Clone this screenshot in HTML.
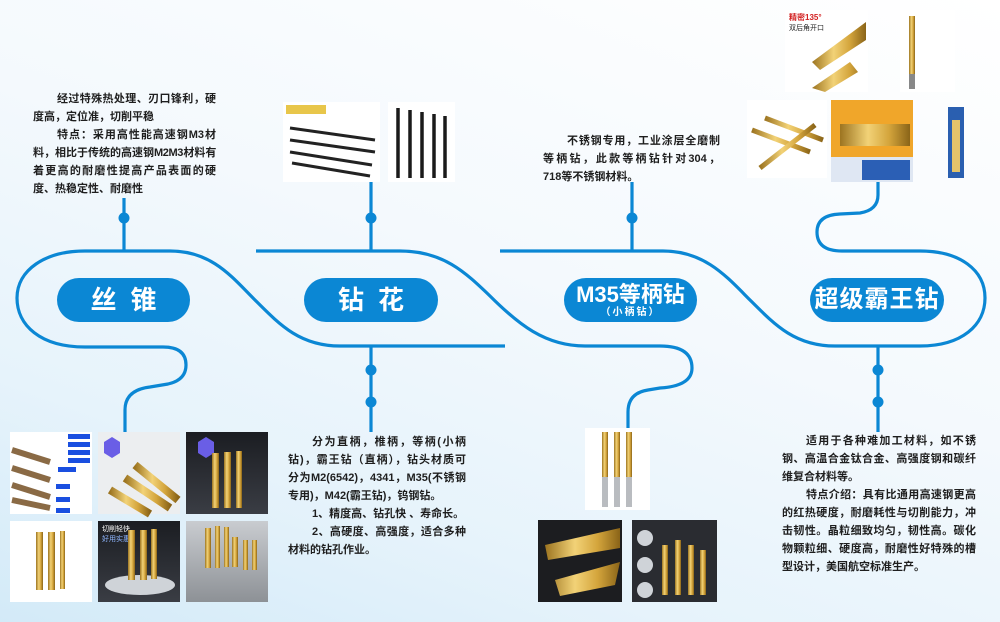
<!DOCTYPE html>
<html><head><meta charset="utf-8">
<style>
html,body{margin:0;padding:0}
body{width:1000px;height:622px;position:relative;overflow:hidden;
background:linear-gradient(200deg,#ffffff 0%,#f4f9fd 45%,#e6f3fb 75%,#d3eaf8 100%);
font-family:"Liberation Sans","Noto Sans CJK SC",sans-serif;}
svg{position:absolute;left:0;top:0}
.t{position:absolute;font-size:11px;line-height:18px;color:#1e1e1e;font-weight:bold;letter-spacing:0}
.t div{white-space:nowrap}
.t .j{text-align:justify;text-align-last:justify}
.t .i{padding-left:24px}
.pill{position:absolute;background:#0b87d4;border-radius:22px;color:#fff;font-weight:bold;text-align:center;height:44px;white-space:nowrap}
</style></head><body>
<svg width="1000" height="622" viewBox="0 0 1000 622">
<defs>
<linearGradient id="g" x1="0" x2="1"><stop offset="0" stop-color="#9c7420"/><stop offset=".4" stop-color="#f2d277"/><stop offset=".7" stop-color="#d4a53c"/><stop offset="1" stop-color="#8a6418"/></linearGradient>
<linearGradient id="dk" x1="0" y1="0" x2="0" y2="1"><stop offset="0" stop-color="#1b1d22"/><stop offset="1" stop-color="#3a3d44"/></linearGradient>
<linearGradient id="gr" x1="0" y1="0" x2="0" y2="1"><stop offset="0" stop-color="#c9ccd0"/><stop offset="1" stop-color="#8d9196"/></linearGradient>
</defs>
<g fill="none" stroke="#0b87d4" stroke-width="3.2">
<path d="M125,432 L125,410 Q125,390 150,387 L168,384 Q186,380 186,365 Q186,347 163,347 L85,347 C40,347 17,325 17,298 C17,270 45,251 85,251 L170,251 C212,251 232,277 255,300 C280,325 300,346 340,346 L505,346"/>
<path d="M256,251 L400,251 C443,251 465,272 490,296 C518,324 545,346 585,346 L660,346 Q692,346 692,368 Q692,386 660,388 L648,390 Q628,393 628,412 L628,430"/>
<path d="M500,251 L663,251 C705,251 727,277 750,300 C775,325 795,346 835,346 L920,346 C962,346 985,325 985,298 C985,270 960,251 920,251 L842,251 Q817,251 817,232 Q817,215 840,214 L860,213 Q878,210 878,195 L878,180"/>
<path d="M124,198 V251 M371,182 V251 M632,182 V251 M371,346 V432 M878,346 V432"/>
</g>
<g fill="#0b87d4">
<circle cx="124" cy="218" r="5.5"/><circle cx="371" cy="218" r="5.5"/><circle cx="632" cy="218" r="5.5"/>
<circle cx="371" cy="370" r="5.5"/><circle cx="371" cy="402" r="5.5"/>
<circle cx="878" cy="370" r="5.5"/><circle cx="878" cy="402" r="5.5"/>
</g>
<rect x="283" y="102" width="97" height="80" fill="#fff"/>
<rect x="286" y="105" width="40" height="9" fill="#e8c64a"/>
<g stroke="#222" stroke-width="3"><line x1="290" y1="128" x2="375" y2="140"/><line x1="290" y1="140" x2="375" y2="152"/><line x1="290" y1="152" x2="372" y2="165"/><line x1="292" y1="163" x2="370" y2="176"/></g>
<rect x="388" y="102" width="67" height="80" fill="#fff"/>
<g stroke="#1a1a1a" stroke-width="3.5"><line x1="398" y1="108" x2="398" y2="178"/><line x1="410" y1="110" x2="410" y2="178"/><line x1="422" y1="112" x2="422" y2="178"/><line x1="434" y1="114" x2="434" y2="178"/><line x1="445" y1="116" x2="445" y2="178"/></g>
<rect x="785" y="10" width="83" height="82" fill="#fff"/>
<text x="789" y="20" font-size="8" fill="#d21f1f" font-weight="bold" font-family="Liberation Sans,Noto Sans CJK SC,sans-serif">精密135°</text>
<text x="789" y="30" font-size="7" fill="#222" font-family="Liberation Sans,Noto Sans CJK SC,sans-serif">双后角开口</text>
<path d="M812,62 L866,22 L866,40 L820,70Z M812,88 L850,62 L858,72 L825,92Z" fill="url(#g)"/>
<rect x="900" y="10" width="55" height="82" fill="#fff"/>
<rect x="909" y="16" width="6" height="58" fill="url(#g)"/><rect x="909" y="74" width="6" height="15" fill="#888"/>
<rect x="747" y="100" width="80" height="78" fill="#fff"/>
<g stroke="url(#g)" stroke-width="5"><line x1="765" y1="118" x2="823" y2="140"/><line x1="752" y1="130" x2="810" y2="152"/><line x1="760" y1="168" x2="815" y2="125"/></g>
<rect x="831" y="100" width="82" height="82" fill="#f0a62a"/>
<rect x="840" y="124" width="70" height="22" fill="url(#g)"/>
<rect x="831" y="157" width="82" height="25" fill="#dfe7f3"/><rect x="862" y="160" width="48" height="20" fill="#2b5fb5"/>
<rect x="948" y="107" width="16" height="71" fill="#2a5fb0"/><rect x="952" y="120" width="8" height="52" fill="#e3c36a"/>
<rect x="10" y="432" width="82" height="82" fill="#fff"/>
<g stroke="#8a6a45" stroke-width="6"><line x1="12" y1="450" x2="50" y2="462"/><line x1="12" y1="468" x2="50" y2="480"/><line x1="12" y1="485" x2="50" y2="497"/><line x1="12" y1="500" x2="50" y2="508"/></g>
<g fill="#1a4fe0"><rect x="68" y="434" width="22" height="5"/><rect x="68" y="442" width="22" height="5"/><rect x="68" y="450" width="22" height="5"/><rect x="68" y="458" width="22" height="5"/><rect x="58" y="467" width="18" height="5"/><rect x="56" y="484" width="14" height="5"/><rect x="56" y="497" width="14" height="5"/><rect x="56" y="508" width="14" height="5"/></g>
<rect x="98" y="432" width="82" height="82" fill="#eceef0"/>
<polygon points="104,442 112,437 120,442 120,453 112,458 104,453" fill="#6a5ee6"/>
<g stroke="url(#g)" stroke-width="8"><line x1="110" y1="490" x2="150" y2="514"/><line x1="125" y1="478" x2="170" y2="508"/><line x1="135" y1="465" x2="178" y2="500"/></g>
<rect x="186" y="432" width="82" height="82" fill="url(#dk)"/>
<polygon points="198,442 206,437 214,442 214,453 206,458 198,453" fill="#6a5ee6"/>
<rect x="212" y="453" width="7" height="55" fill="url(#g)"/><rect x="224" y="452" width="7" height="56" fill="url(#g)"/><rect x="236" y="451" width="6" height="57" fill="url(#g)"/>
<rect x="10" y="521" width="82" height="81" fill="#fff"/>
<rect x="36" y="532" width="7" height="58" fill="url(#g)"/><rect x="48" y="532" width="7" height="58" fill="url(#g)"/><rect x="60" y="531" width="5" height="58" fill="url(#g)"/>
<rect x="98" y="521" width="82" height="81" fill="url(#dk)"/>
<text x="102" y="531" font-size="7" fill="#fff" font-family="Liberation Sans,Noto Sans CJK SC,sans-serif">切削轻快</text>
<text x="102" y="541" font-size="7" fill="#8fb6ff" font-family="Liberation Sans,Noto Sans CJK SC,sans-serif">好用实惠</text>
<ellipse cx="140" cy="585" rx="35" ry="10" fill="#cfd3d8"/>
<rect x="128" y="530" width="7" height="50" fill="url(#g)"/><rect x="140" y="530" width="7" height="50" fill="url(#g)"/><rect x="151" y="529" width="6" height="50" fill="url(#g)"/>
<rect x="186" y="521" width="82" height="81" fill="url(#gr)"/>
<g fill="url(#g)"><rect x="205" y="528" width="6" height="40"/><rect x="215" y="526" width="5" height="42"/><rect x="224" y="527" width="5" height="40"/><rect x="232" y="537" width="6" height="30"/><rect x="243" y="540" width="5" height="30"/><rect x="252" y="540" width="5" height="30"/></g>
<rect x="585" y="428" width="65" height="82" fill="#fff"/>
<rect x="602" y="432" width="6" height="45" fill="url(#g)"/><rect x="614" y="432" width="6" height="45" fill="url(#g)"/><rect x="626" y="432" width="6" height="45" fill="url(#g)"/>
<g fill="#b9bcc0"><rect x="602" y="477" width="6" height="30"/><rect x="614" y="477" width="6" height="30"/><rect x="626" y="477" width="6" height="30"/></g>
<rect x="538" y="520" width="84" height="82" fill="#1c1d20"/>
<path d="M545,545 L620,528 L620,548 L548,560Z M555,580 L620,562 L615,585 L560,596Z" fill="url(#g)"/>
<rect x="632" y="520" width="85" height="82" fill="#2a2c31"/>
<circle cx="645" cy="538" r="8" fill="#cfd3d8"/><circle cx="645" cy="565" r="8" fill="#cfd3d8"/><circle cx="645" cy="590" r="8" fill="#cfd3d8"/>
<rect x="662" y="545" width="6" height="50" fill="url(#g)"/><rect x="675" y="540" width="6" height="55" fill="url(#g)"/><rect x="688" y="545" width="6" height="50" fill="url(#g)"/><rect x="700" y="550" width="6" height="45" fill="url(#g)"/>
</svg>

<div class="pill" style="left:57px;top:278px;width:133px;font-size:26px;line-height:44px;letter-spacing:14px;text-indent:14px">丝锥</div>
<div class="pill" style="left:304px;top:278px;width:134px;font-size:26px;line-height:44px;letter-spacing:14px;text-indent:14px">钻花</div>
<div class="pill" style="left:564px;top:278px;width:133px;"><div style="font-size:22px;line-height:24px;margin-top:5px">M35等柄钻</div><div style="font-size:10px;line-height:12px;letter-spacing:2px">（小柄钻）</div></div>
<div class="pill" style="left:810px;top:278px;width:134px;font-size:24px;line-height:44px;letter-spacing:1px">超级霸王钻</div>

<div class="t" style="left:33px;top:90px;width:183px">
<div class="j i">经过特殊热处理、刃口锋利，硬</div>
<div>度高，定位准，切削平稳</div>
<div class="j i">特点：采用高性能高速钢M3材</div>
<div class="j" style="letter-spacing:-0.4px">料，相比于传统的高速钢M2M3材料有</div>
<div class="j">着更高的耐磨性提高产品表面的硬</div>
<div>度、热稳定性、耐磨性</div>
</div>
<div class="t" style="left:543px;top:132px;width:177px">
<div class="j i">不锈钢专用，工业涂层全磨制</div>
<div class="j">等柄钻，此款等柄钻针对304，</div>
<div>718等不锈钢材料。</div>
</div>
<div class="t" style="left:288px;top:433px;width:178px">
<div class="j i">分为直柄，椎柄，等柄(小柄</div>
<div class="j">钻)，霸王钻（直柄），钻头材质可</div>
<div class="j">分为M2(6542)，4341，M35(不锈钢</div>
<div>专用)，M42(霸王钻)，钨钢钻。</div>
<div class="i">1、精度高、钻孔快 、寿命长。</div>
<div class="j i">2、高硬度、高强度，适合多种</div>
<div>材料的钻孔作业。</div>
</div>
<div class="t" style="left:782px;top:432px;width:194px">
<div class="j i">适用于各种难加工材料，如不锈</div>
<div class="j">钢、高温合金钛合金、高强度钢和碳纤</div>
<div>维复合材料等。</div>
<div class="j i">特点介绍：具有比通用高速钢更高</div>
<div class="j">的红热硬度，耐磨耗性与切削能力，冲</div>
<div class="j">击韧性。晶粒细致均匀，韧性高。碳化</div>
<div class="j">物颗粒细、硬度高，耐磨性好特殊的槽</div>
<div>型设计，美国航空标准生产。</div>
</div>
</body></html>
